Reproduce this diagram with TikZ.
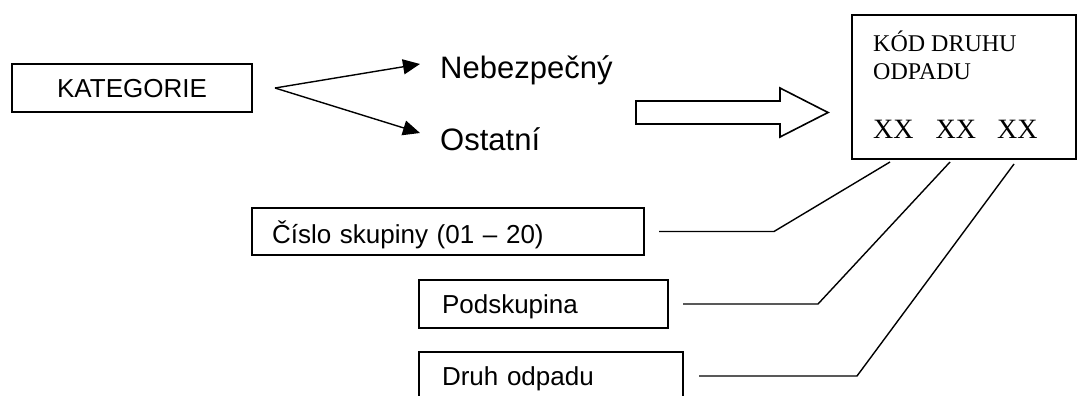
\documentclass[tikz,border=0pt]{standalone}
\usepackage{fontspec}
\setmainfont{Liberation Sans}
\newfontfamily\tms{Liberation Serif}
\usetikzlibrary{arrows.meta}
\begin{document}
\begin{tikzpicture}[x=1pt,y=-1pt,
  box/.style={draw, line width=1.6pt, outer sep=0pt, inner ysep=0pt},
  lbl/.style={font=\fontsize{26}{30}\selectfont},
  big/.style={anchor=base west, inner sep=0pt, font=\fontsize{31}{36}\selectfont},
  serif/.style={anchor=base west, inner sep=0pt},
  ln/.style={line width=1.4pt},
  arr/.style={line width=1.4pt, -{Triangle[length=17pt,width=15pt]}}]
\useasboundingbox (0,0) rectangle (1077,396);
\fill[white] (0,0) rectangle (1077,396);

% KATEGORIE
\node[box, lbl, anchor=north west, minimum width=240pt, minimum height=48pt,
      text height=19pt, text depth=0pt] (kat) at (12,64) {KATEGORIE};
\coordinate (v) at ([xshift=23pt]kat.east);
\coordinate (t1) at (420,64);
\coordinate (t2) at (420,133);
\draw[arr] (v) -- (t1);
\draw[arr] (v) -- (t2);
\node[big] (neb) at (440,78) {Nebezpečný};
\node[big] (ost) at (440,150) {Ostatní};

% block arrow
\draw[line width=1.6pt, line join=miter] (636,101) -- (780,101) -- (780,88) -- (828,112.5)
   -- (780,137) -- (780,124) -- (636,124) -- cycle;

% code box
\node[box, anchor=north west, minimum width=224pt, minimum height=144pt] (kod) at (852,15) {};
\node[serif, font=\tms\fontsize{24}{27}\selectfont] (k1) at (873,52) {KÓD DRUHU};
\node[serif, font=\tms\fontsize{24}{27}\selectfont] (k2) at (873,80) {ODPADU};
\node[serif, font=\tms\fontsize{28}{32}\selectfont] (xx) at (873,139) {XX\hspace{22pt}XX\hspace{21pt}XX};

% lower boxes
\node[box, lbl, anchor=north west, minimum width=392pt, minimum height=47pt,
      text width=352pt, inner xsep=20pt, align=left,
      text height=23pt, text depth=0pt] (cis) at (252,208) {Číslo skupiny (01 – 20)};
\node[box, lbl, anchor=north west, minimum width=249pt, minimum height=48pt,
      text width=203pt, inner xsep=23pt, align=left,
      text height=18pt, text depth=0pt] (pod) at (419,280) {Podskupina};
\node[box, lbl, anchor=north west, minimum width=264pt, minimum height=48pt,
      text width=218pt, inner xsep=23pt, align=left,
      text height=18pt, text depth=0pt] (dru) at (419,352) {Druh odpadu};

% connectors
\coordinate (c1) at (890,162);
\coordinate (c2) at (950,162);
\coordinate (c3) at (1014,164);
\draw[ln] ([xshift=15pt]cis.east) -- ++(115,0) -- (c1);
\draw[ln] ([xshift=15pt]pod.east) -- ++(135,0) -- (c2);
\draw[ln] ([xshift=16pt]dru.east) -- ++(158,0) -- (c3);
\end{tikzpicture}
\end{document}
